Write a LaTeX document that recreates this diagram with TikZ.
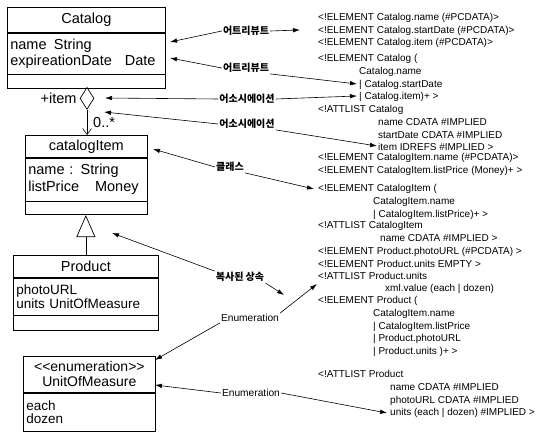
\documentclass[tikz,border=0pt]{standalone}
\usepackage{fontspec}
\setmainfont{Liberation Sans}[Ligatures=TeXOff]
\newfontfamily\krfont{Noto Sans CJK KR}
\usetikzlibrary{positioning, arrows.meta, shapes.geometric}

\begin{document}
\begin{tikzpicture}[
    x=1pt, y=-1pt,
    >={Latex[length=7pt, width=4.5pt]},
    umlpart/.style={draw, rectangle, anchor=north west, line width=0.7pt, inner xsep=3pt, inner ysep=0pt, font=\fontsize{14.5}{16}\selectfont},
    umlhead/.style={umlpart, align=center},
    umlattr/.style={umlpart, align=left},
    tag/.style={font=\krfont\bfseries\fontsize{10}{12}\selectfont, inner sep=1pt},
    enumtag/.style={font=\fontsize{10.2}{12}\selectfont, inner sep=1pt},
    dtd/.style={anchor=north west, align=left, inner sep=0pt, font=\fontsize{10}{12.4}\selectfont},
    link/.style={->, line width=0.6pt}
  ]
  \useasboundingbox (0,0) rectangle (553,435);

  % UML classes
  \node[umlhead, minimum width=158pt, minimum height=25pt] (catalog) at (7,7) {Catalog};
  \node[umlattr, text width=152pt, minimum height=41pt, font=\fontsize{14.5}{16.5}\selectfont] (catalogattr) at (catalog.south west) {name\hspace{0.5em}String\\expireationDate\hspace{0.9em}Date};
  \node[umlpart, minimum width=158pt, minimum height=14pt] (catalogops) at (catalogattr.south west) {};

  \node[umlhead, minimum width=122pt, minimum height=22pt] (catalogitem) at (25,135) {catalogItem};
  \node[umlattr, text width=116pt, minimum height=43pt, font=\fontsize{14.5}{17}\selectfont] (catalogitemattr) at (catalogitem.south west) {name : String\\listPrice\hspace{1.1em}Money};
  \node[umlpart, minimum width=122pt, minimum height=13pt] (catalogitemops) at (catalogitemattr.south west) {};

  \node[umlhead, minimum width=145pt, minimum height=22pt] (product) at (13,255) {Product};
  \node[umlattr, text width=139pt, minimum height=37pt, font=\fontsize{13.5}{13.5}\selectfont] (productattr) at (product.south west) {photoURL\\units UnitOfMeasure};
  \node[umlpart, minimum width=145pt, minimum height=15pt] (productops) at (productattr.south west) {};

  \node[umlhead, minimum width=132pt, minimum height=36pt, font=\fontsize{14}{15}\selectfont] (unit) at (23,356) {<<enumeration>>\\UnitOfMeasure};
  \node[umlattr, text width=126pt, minimum height=38pt, font=\fontsize{13.5}{13.5}\selectfont] (unitattr) at (unit.south west) {each\\dozen};

  % association and generalization
  \node[diamond, draw, line width=0.7pt, minimum width=14pt, minimum height=22pt, inner sep=0pt, anchor=north] (aggr) at (87,87) {};
  \node[font=\fontsize{14.5}{16}\selectfont, inner sep=0pt, left=3pt of aggr] (itemrole) {+item};
  \node[font=\fontsize{14.5}{16}\selectfont, inner sep=0pt, anchor=west] (itemmult) at (93,123) {0..*};
  \draw[line width=0.6pt, -{Straight Barb[length=6pt, width=9pt]}] (aggr.south) -- (aggr.south |- catalogitem.north);
  \draw[line width=0.6pt, -{Triangle[open, length=22pt, width=19pt, line width=0.7pt]}] (product.north) -- (product.north |- catalogitemops.south);

  % DTD
  \node[dtd] (dtdcatalogel) at (318,13.5) {<!ELEMENT Catalog.name (\#PCDATA)>\\<!ELEMENT Catalog.startDate (\#PCDATA)>\\<!ELEMENT Catalog.item (\#PCDATA)>};
  \node[dtd] (dtdcatalog) at (318,54.5) {<!ELEMENT Catalog (};
  \node[dtd] (dtdcatalogseq) at (359,67.5) {Catalog.name\\| Catalog.startDate\\| Catalog.item)+ >};
  \node[dtd] (dtdcatalogatt) at (318,105.5) {<!ATTLIST Catalog};
  \node[dtd] (dtdcatalogattlist) at (378,118.5) {name CDATA \#IMPLIED\\startDate CDATA \#IMPLIED\\item IDREFS \#IMPLIED >};
  \node[dtd] (dtditemel) at (318,153.5) {<!ELEMENT CatalogItem.name (\#PCDATA)>\\<!ELEMENT CatalogItem.listPrice (Money)+ >};
  \node[dtd] (dtditem) at (318,184.5) {<!ELEMENT CatalogItem (};
  \node[dtd] (dtditemseq) at (373,197.5) {CatalogItem.name\\| CatalogItem.listPrice)+ >};
  \node[dtd] (dtditematt) at (318,221.5) {<!ATTLIST CatalogItem};
  \node[dtd] (dtditemattlist) at (380,234.5) {name CDATA \#IMPLIED >};
  \node[dtd] (dtdproductel) at (318,247.5) {<!ELEMENT Product.photoURL (\#PCDATA) >\\<!ELEMENT Product.units EMPTY >\\<!ATTLIST Product.units};
  \node[dtd] (dtdunitsval) at (385,284.5) {xml.value (each | dozen)};
  \node[dtd] (dtdproduct) at (318,296.5) {<!ELEMENT Product (};
  \node[dtd] (dtdproductseq) at (373,309.5) {CatalogItem.name\\| CatalogItem.listPrice\\| Product.photoURL\\| Product.units )+ >};
  \node[dtd] (dtdproductatt) at (318,370.5) {<!ATTLIST Product};
  \node[dtd] (dtdproductattlist) at (390,383.5) {name CDATA \#IMPLIED\\photoURL CDATA \#IMPLIED\\units (each | dozen) \#IMPLIED >};

  % mapping labels
  \node[tag] (attr1) at (246,31) {어트리뷰트};
  \node[tag] (attr2) at (246,68) {어트리뷰트};
  \node[tag] (assoc1) at (247,99) {어소시에이션};
  \node[tag] (assoc2) at (247,124) {어소시에이션};
  \node[tag] (klass) at (230,167) {클래스};
  \node[tag] (copyinh) at (240,277) {복사된 상속};
  \node[enumtag] (enum1) at (250,318) {Enumeration};
  \node[enumtag] (enum2) at (251,393) {Enumeration};

  % arrow ends
  \coordinate (catname) at (170,42);
  \coordinate (catdate) at (170,58);
  \coordinate (roletip) at (105,98);
  \coordinate (multtip) at (104,112);
  \coordinate (itemhead) at (153,149);
  \coordinate (gentip) at (112,233);
  \coordinate (unithead) at (155,360);
  \coordinate (unitname) at (155,385);
  \coordinate (dtdstart) at (300,30);
  \coordinate (seqdate) at (357,84);
  \coordinate (seqitem) at (357,96);
  \coordinate (idrefs) at (377,146);
  \coordinate (itemel) at (314,189);
  \coordinate (copytip) at (284,295);
  \coordinate (unitsatt) at (317,284);
  \coordinate (unitsimpl) at (387,413);

  % mapping arrows
  \draw[link] (attr1.west) -- (catname);
  \draw[link] (attr1.east) -- (dtdstart);
  \draw[link] (attr2.west) -- (catdate);
  \draw[link] (attr2.south east) -- (seqdate);
  \draw[link] (assoc1.west) -- (roletip);
  \draw[link] (assoc1.east) -- (seqitem);
  \draw[link] (assoc2.west) -- (multtip);
  \draw[link] (assoc2.south east) -- (idrefs);
  \draw[link] (klass.west) -- (itemhead);
  \draw[link] (klass.south east) -- (itemel);
  \draw[link] (copyinh.north west) -- (gentip);
  \draw[link] (copyinh.south east) -- (copytip);
  \draw[link] (enum1.north east) -- (unitsatt);
  \draw[link] (enum1.south west) -- (unithead);
  \draw[link] (enum2.west) -- (unitname);
  \draw[link] (enum2.east) -- (unitsimpl);
\end{tikzpicture}
\end{document}
